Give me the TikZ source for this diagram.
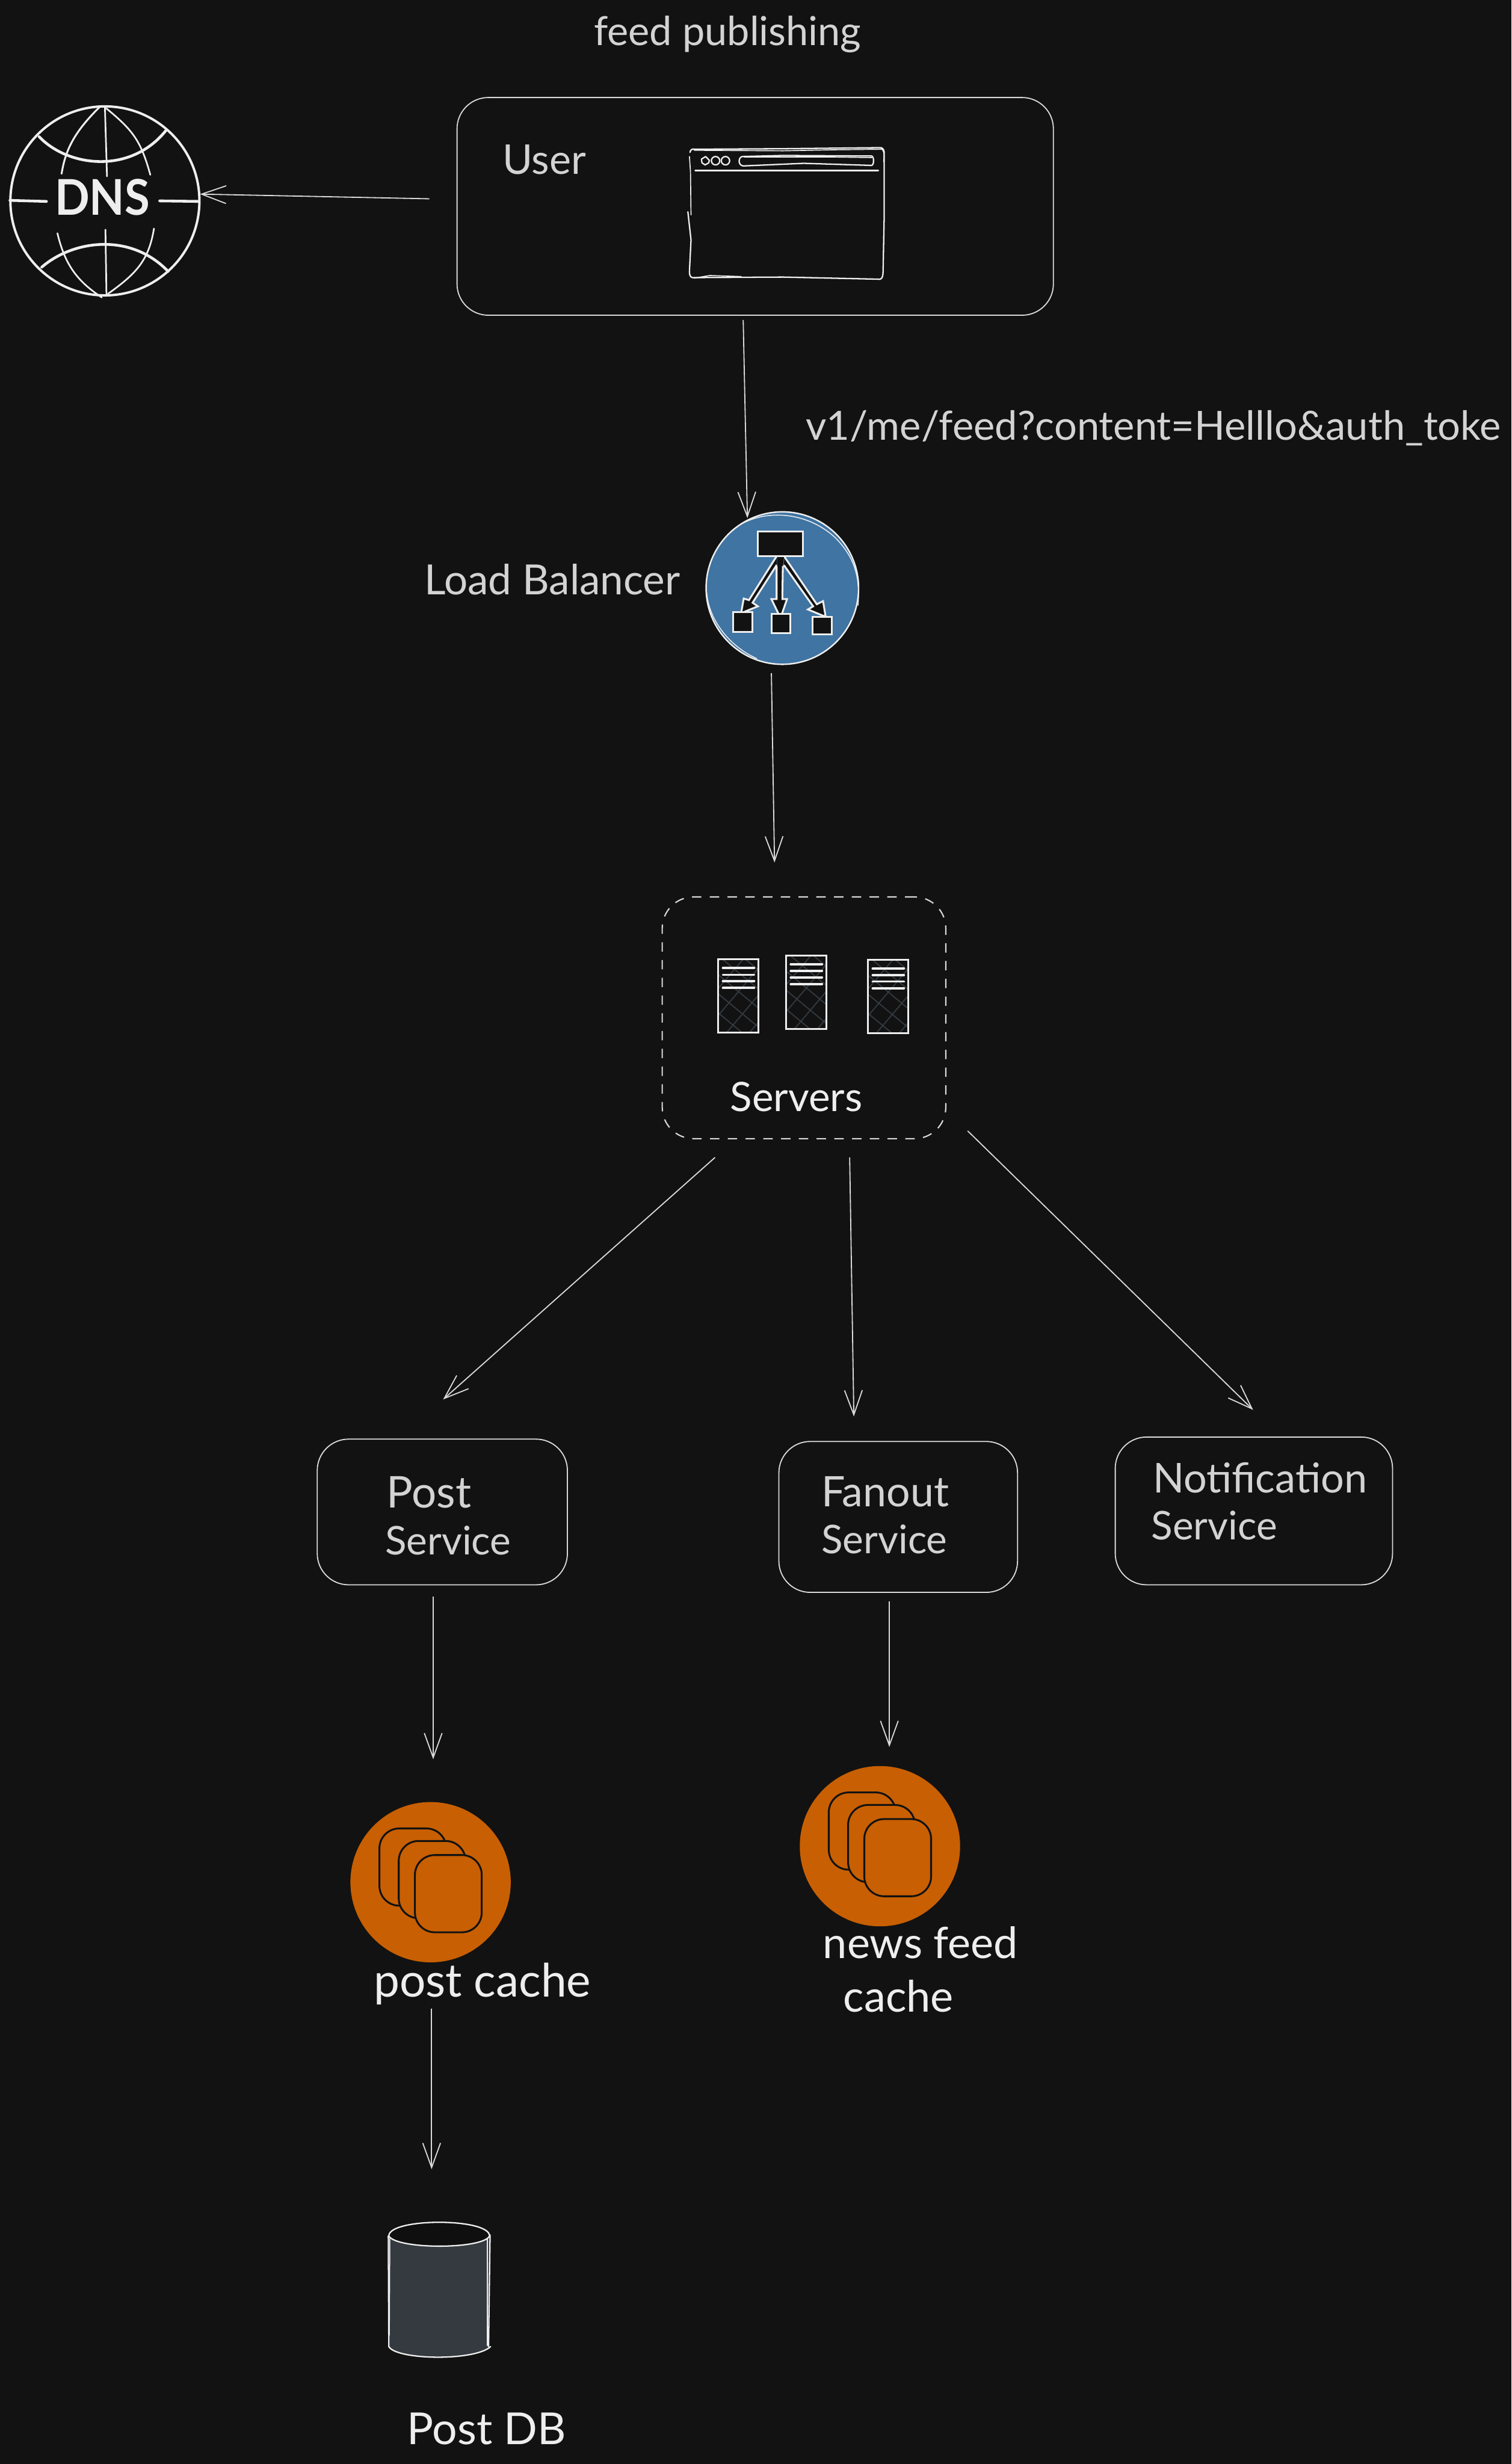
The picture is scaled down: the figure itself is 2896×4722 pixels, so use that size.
\documentclass[tikz,border=0pt]{standalone}
\usepackage{graphicx}
\usepackage{fontspec}
\setmainfont{Lato}
\usetikzlibrary{arrows.meta}
\definecolor{bg}{HTML}{121212}
\definecolor{ink}{HTML}{EEEEEE}
\definecolor{softink}{HTML}{D3D3D3}
\definecolor{wire}{HTML}{DADADA}
\definecolor{lbblue}{HTML}{3F74A3}
\definecolor{cacheor}{HTML}{C85F02}
\definecolor{hatchc}{HTML}{343A40}
\newcommand{\hw}[2]{\resizebox{#1cm}{!}{#2}}
\tikzset{
  hwtext/.style={text=ink,inner sep=0pt,outer sep=0pt,align=left,font=\fontsize{20.5pt}{25.6pt}\selectfont},
  softtext/.style={hwtext,text=softink},
  svcbox/.style={draw=wire,line width=0.6pt,rounded corners=0.6cm,inner sep=0pt,outer sep=0pt},
  conn/.style={draw=wire,line width=0.6pt,-{Straight Barb[length=4.7mm,width=3.4mm,line width=0.6pt]}},
  sketch/.style={draw=ink,line width=0.75pt,line join=round,line cap=round},
  glob/.style={draw=ink,line cap=round,line join=round},
  rackline/.style={draw=ink,line width=1.2pt,line cap=round},
  hatchline/.style={draw=hatchc,line width=0.6pt},
  lbpart/.style={fill=bg,draw=ink,line width=1pt,line join=miter},
  cachecircle/.style={circle,fill=cacheor,inner sep=0pt,outer sep=0pt,minimum size=3.07cm},
  stackcard/.style={draw=bg,fill=cacheor,line width=1pt,rounded corners=0.38cm}
}
\newcommand{\srvrack}[3]{%
  \begin{scope}
    \clip (#2,#3) rectangle +(77,141);
    \foreach \k in {-6,...,9} {
      \draw[hatchline] (#2+\k*44-80,#3) -- ++(170,141*1.0);
      \draw[hatchline] (#2+\k*44-40,#3) -- ++(-120,141*1.0);
    }
  \end{scope}
  \node[draw=ink,line width=1.1pt,inner sep=0pt,outer sep=0pt,minimum width=0.77cm,minimum height=1.41cm,anchor=north west] (#1) at (#2,#3) {};
  \foreach \d in {17,30,42,55} { \draw[rackline] (#2+9,#3+\d) -- +(60,0); }
}
\newcommand{\cardstack}[2]{%
  \filldraw[stackcard] (#1-98,#2-103) rectangle +(128,148);
  \filldraw[stackcard] (#1-61,#2-79) rectangle +(128,148);
  \filldraw[stackcard] (#1-30,#2-52) rectangle +(128,148);
}
\begin{document}
\begin{tikzpicture}[x=0.01cm,y=-0.01cm]
\useasboundingbox[fill=bg] (0,0) rectangle (2896,4722);

% title
\node[softtext,anchor=west] (title) at (1138,66) {\hw{5.12}{feed publishing}};

% user box
\node[svcbox,minimum width=11.42cm,minimum height=4.17cm] (user) at (1447,395.5) {};
\node[softtext,anchor=west] (userlabel) at (963,306) {\hw{1.6}{User}};

% browser window
\draw[sketch] (1322,292) .. controls (1323,286) and (1327,285) .. (1332,286) -- (1500,285) -- (1688,283) .. controls (1693,284) and (1695,290) .. (1694,297) -- (1694,420) -- (1692,520) .. controls (1692,533) and (1688,537) .. (1682,535) -- (1500,531) -- (1330,532) .. controls (1324,533) and (1321,530) .. (1321,520) -- (1324,460) -- (1318,406);
\draw[sketch,line width=0.55pt] (1324,412) -- (1323,330) -- (1321,300);
\draw[sketch,line width=0.55pt] (1330,288) -- (1500,289) -- (1600,287) -- (1690,286);
\draw[sketch,line width=0.55pt] (1330,533) -- (1360,528) -- (1420,530);
\draw[sketch,line width=0.55pt] (1688,284) .. controls (1693,288) and (1695,292) .. (1693,310);
\draw[sketch] (1352,300) -- (1359,307) -- (1358,312) -- (1351,316) -- (1345,312) -- (1344,305) -- cycle;
\draw[sketch] (1371,308) circle[radius=8];
\draw[sketch] (1390,308) circle[radius=8];
\draw[sketch] (1422,300) -- (1500,298) -- (1670,299) .. controls (1675,300) and (1675,316) .. (1670,317) -- (1540,313) -- (1424,318) .. controls (1414,317) and (1414,302) .. (1422,300) -- cycle;
\draw[sketch,line width=0.55pt] (1426,301) -- (1600,301) -- (1670,302);
\draw[sketch] (1332,327) -- (1683,327);

% DNS globe
\node[circle,draw=ink,line width=1.3pt,minimum size=3.62cm,inner sep=0pt,outer sep=0pt] (dns) at (201,385) {};
\draw[glob,line width=0.9pt] (201,205) -- (205,338);
\draw[glob,line width=0.9pt] (202,440) -- (204,565);
\draw[glob,line width=1pt] (191,205) .. controls (140,255) and (125,290) .. (118,333);
\draw[glob,line width=0.9pt] (204,208) .. controls (255,250) and (270,270) .. (288,335);
\draw[glob,line width=0.9pt] (110,447) .. controls (125,510) and (150,540) .. (195,570);
\draw[glob,line width=0.9pt] (295,438) .. controls (285,500) and (260,525) .. (207,563);
\draw[glob,line width=1.5pt] (75,262) .. controls (130,320) and (250,335) .. (318,250);
\draw[glob,line width=1.5pt] (80,512) .. controls (140,460) and (250,445) .. (322,520);
\draw[glob,line width=1.5pt] (19,384) -- (89,386);
\draw[glob,line width=1.5pt] (306,385) -- (381,386);
\node[hwtext,anchor=center] (dnslabel) at (196,378) {\resizebox{1.82cm}{0.69cm}{\bfseries DNS}};
\draw[conn] ([shift={(-53,-14.5)}]user.west) -- ([shift={(1,-13)}]dns.east);

% url
\node[softtext,anchor=west] (url) at (1544,821) {\hw{13.31}{v1/me/feed?content=Helllo\&auth\_toke}};

% load balancer
\node[circle,fill=lbblue,draw=ink,line width=0.8pt,minimum size=2.92cm,inner sep=0pt,outer sep=0pt] (lb) at (1499,1127) {};
\draw[sketch,line width=0.5pt] (1401,1018) .. controls (1450,975) and (1540,975) .. (1600,1030) .. controls (1640,1070) and (1648,1110) .. (1644,1160);
\draw[sketch,line width=0.5pt] (1354,1135) .. controls (1358,1190) and (1400,1240) .. (1450,1262);
\node[softtext,anchor=west] (lblabel) at (813,1110) {\hw{4.9}{Load Balancer}};
\filldraw[lbpart] (1488,1066) -- (1435,1150) -- (1425,1147) -- (1420,1175) -- (1452,1162) -- (1442,1155) -- (1488,1083);
\filldraw[lbpart] (1488,1082) -- (1488,1148) -- (1478,1148) -- (1492,1177) -- (1498,1177) -- (1508,1148) -- (1499,1148) -- (1500,1083);
\filldraw[lbpart] (1503,1067) -- (1565,1158) -- (1577,1152) -- (1582,1182) -- (1548,1168) -- (1558,1162) -- (1502,1083);
\path[fill=bg] (1489,1060) -- (1503,1060) -- (1500,1085) -- (1489,1085) -- cycle;
\node[lbpart,inner sep=0pt,outer sep=0pt,minimum width=0.86cm,minimum height=0.47cm] (lbtop) at (1495,1042) {};
\node[lbpart,inner sep=0pt,outer sep=0pt,minimum size=0.37cm] (lbleft) at (1423,1192) {};
\node[lbpart,inner sep=0pt,outer sep=0pt,minimum size=0.36cm] (lbmid) at (1496,1195) {};
\node[lbpart,inner sep=0pt,outer sep=0pt,minimum width=0.37cm,minimum height=0.34cm] (lbright) at (1575,1199) {};
\draw[conn] ([shift={(-23,9)}]user.south) -- ([shift={(-67,12)}]lb.north);

% servers
\node[draw=wire,line width=0.7pt,dash pattern=on 0.18cm off 0.16cm,rounded corners=0.6cm,minimum width=5.43cm,minimum height=4.63cm,inner sep=0pt,outer sep=0pt] (srv) at (1540.5,1950.5) {};
\srvrack{rack1}{1376}{1838}
\srvrack{rack2}{1506}{1831}
\srvrack{rack3}{1663}{1839}
\node[hwtext,anchor=west] (srvlabel) at (1399,2102) {\hw{2.53}{Servers}};
\draw[conn] ([shift={(-21,17)}]lb.south) -- ([shift={(-56.5,-66)}]srv.north);

% services
\node[svcbox,minimum width=4.79cm,minimum height=2.79cm] (post) at (847.5,2897.5) {};
\node[svcbox,minimum width=4.57cm,minimum height=2.89cm] (fanout) at (1721,2907) {};
\node[svcbox,minimum width=5.31cm,minimum height=2.83cm] (notif) at (2402.5,2895.5) {};
\node[softtext,anchor=west] (postlabel) at (738,2905) {\hspace*{0.03cm}\hw{1.62}{Post}\\\hw{2.41}{Service}};
\node[softtext,anchor=west] (fanlabel) at (1574,2904) {\hw{2.44}{Fanout}\\\hw{2.41}{Service}};
\node[softtext,anchor=west] (notlabel) at (2206,2877) {\hspace*{0.03cm}\hw{4.10}{Notification}\\\hw{2.41}{Service}};
\draw[conn] ([shift={(-170.5,36)}]srv.south) -- ([shift={(1.5,-76)}]post.north);
\draw[conn] ([shift={(87.5,36)}]srv.south) -- ([shift={(-85,-48)}]fanout.north);
\draw[conn] ([shift={(313.5,-15)}]srv.south) -- ([shift={(-1.5,-52)}]notif.north);

% caches
\node[cachecircle] (pcache) at (825,3607) {};
\cardstack{825}{3607}
\node[cachecircle] (fcache) at (1686,3538) {};
\cardstack{1686}{3538}
\node[hwtext,anchor=west] (pclabel) at (716,3802) {\hw{4.16}{post cache}};
\node[hwtext,anchor=west] (fclabel) at (1577,3774) {\hw{3.73}{news feed}\\[0.12cm]\hspace*{0.39cm}\hw{2.11}{cache}};
\draw[conn] ([shift={(-17.5,23)}]post.south) -- ([shift={(5,-82)}]pcache.north);
\draw[conn] ([shift={(-17,17)}]fanout.south) -- ([shift={(18,-36.5)}]fcache.north);

% database
\coordinate (db) at (841,4263);
\begin{scope}[shift={(0,5)}]
\path[fill=hatchc] (745,4280) -- (745,4493) .. controls (770,4518) and (910,4518) .. (938,4493) -- (938,4280) -- cycle;
\draw[sketch,fill=bg!85!black] (745,4280) .. controls (745,4245) and (938,4245) .. (938,4280) .. controls (925,4306) and (760,4306) .. (745,4280) -- cycle;
\draw[sketch] (744,4280) -- (745,4492) .. controls (760,4518) and (910,4520) .. (940,4492);
\draw[sketch] (939,4278) -- (936,4492);
\draw[sketch,line width=0.5pt] (747,4285) -- (746,4470);
\draw[sketch,line width=0.5pt] (934,4285) -- (934,4490);
\end{scope}
\node[hwtext,anchor=west] (dblabel) at (780,4654) {\hw{3.04}{Post DB}};
\draw[conn] ([shift={(2,89)}]pcache.south) -- ([shift={(-14,-106)}]db);
\end{tikzpicture}
\end{document}
